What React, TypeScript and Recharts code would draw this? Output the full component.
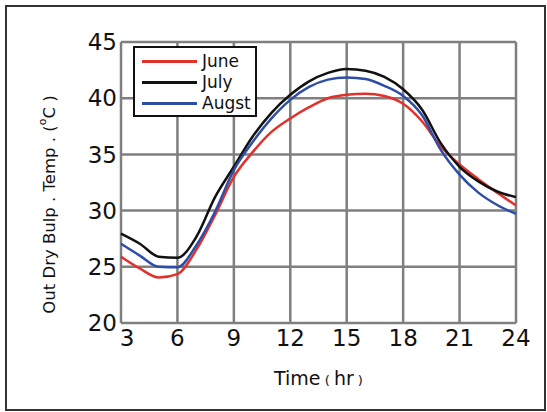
import React from "react";
import { LineChart, Line, XAxis, YAxis, CartesianGrid, Legend, Label } from "recharts";

const hours = [3, 4, 5, 6, 7, 8, 9, 10, 11, 12, 13, 14, 15, 16, 17, 18, 19, 20, 21, 22, 23, 24];
const june = [25.9, 24.85, 24.05, 24.35, 26.5, 29.6, 33.0, 35.2, 37.0, 38.2, 39.2, 40.0, 40.3, 40.4, 40.2, 39.5, 37.95, 35.7, 34.1, 32.8, 31.6, 30.45];
const july = [27.95, 27.05, 25.9, 25.8, 27.65, 31.2, 33.9, 36.6, 38.7, 40.3, 41.5, 42.25, 42.6, 42.45, 41.9, 40.8, 39.0, 36.0, 33.9, 32.6, 31.7, 31.2];
const augst = [27.05, 26.0, 25.0, 24.95, 26.9, 29.9, 33.6, 36.1, 38.2, 39.85, 41.0, 41.65, 41.85, 41.7, 41.1, 40.2, 38.5, 35.4, 33.2, 31.6, 30.5, 29.7];
const xTicks = [3, 6, 9, 12, 15, 18, 21, 24];
const yTicks = [20, 25, 30, 35, 40, 45];
const seriesOrder = ["June", "July", "Augst"];

const data = hours.map((h, i) => ({ hour: h, June: june[i], July: july[i], Augst: augst[i] }));

const FONT = "'DejaVu Sans', Verdana, sans-serif";

function LegendBox({ payload }: any) {
  const items = [...(payload || [])].sort(
    (a: any, b: any) => seriesOrder.indexOf(a.value) - seriesOrder.indexOf(b.value)
  );
  return (
    <div
      style={{
        width: 113,
        border: "2.5px solid #111",
        background: "#fff",
        padding: "3px 0 1px 7px",
        fontFamily: FONT,
        fontSize: 17,
        lineHeight: "21px",
        color: "#111",
      }}
    >
      {items.map((p: any) => (
        <div key={p.value} style={{ display: "flex", alignItems: "center" }}>
          <span style={{ display: "inline-block", width: 55, height: 3, background: p.color, marginRight: 5 }} />
          <span>{p.value}</span>
        </div>
      ))}
    </div>
  );
}

function XTick({ x, y, payload, index }: any) {
  const dx = index === 0 ? 6 : 0;
  return (
    <text x={x + dx} y={y} dy={17} textAnchor="middle" fontFamily={FONT} fontSize={23} fill="#111">
      {payload.value}
    </text>
  );
}

function YTitle({ viewBox }: any) {
  const x = viewBox.x + 55;
  const y = viewBox.y + viewBox.height / 2 + 22;
  return (
    <text x={x} y={y} transform={`rotate(-90, ${x}, ${y})`} textAnchor="middle" fontFamily={FONT} fontSize={16.5} fill="#111">
      <tspan>Out Dry Bulp . Temp . (</tspan>
      <tspan fontSize={11} dy={-9}>o</tspan>
      <tspan dy={9}>C )</tspan>
    </text>
  );
}

function XTitle({ viewBox }: any) {
  const x = viewBox.x + viewBox.width / 2;
  const y = viewBox.y + 62;
  return (
    <text x={x} y={y} textAnchor="middle" fontFamily={FONT} fontSize={19} fill="#111">
      Time<tspan fontSize={13}> ( </tspan>hr<tspan fontSize={13}> )</tspan>
    </text>
  );
}

export default function App() {
  return (
    <div style={{ position: "absolute", left: 0, top: 0, width: 547, height: 412, background: "#fff" }}>
      <div
        style={{
          position: "absolute",
          left: 5,
          top: 5,
          width: 537,
          height: 402,
          border: "2px solid #333",
        }}
      />
      <LineChart width={547} height={412} data={data} margin={{ top: 42, right: 31, bottom: 29, left: 0 }}>
        <CartesianGrid stroke="#7f7f7f" strokeWidth={2.5} />
        <XAxis
          dataKey="hour"
          type="number"
          domain={[3, 24]}
          ticks={xTicks}
          axisLine={false}
          tickLine={false}
          tickSize={0}
          tickMargin={6}
          height={60}
          tick={<XTick />}
        >
          <Label content={<XTitle />} />
        </XAxis>
        <YAxis
          type="number"
          domain={[20, 45]}
          ticks={yTicks}
          axisLine={false}
          tickLine={false}
          tickSize={0}
          tickMargin={4}
          width={121}
          tick={{ fontFamily: FONT, fontSize: 23, fill: "#111" }}
        >
          <Label content={<YTitle />} />
        </YAxis>
        <Legend
          layout="vertical"
          verticalAlign="middle"
          align="center"
          content={<LegendBox />}
          wrapperStyle={{ left: 133, top: 46, width: 124 }}
        />
        <Line type="monotone" dataKey="June" stroke="#e2302b" strokeWidth={2.5} dot={false} isAnimationActive={false} />
        <Line type="monotone" dataKey="July" stroke="#111111" strokeWidth={2.5} dot={false} isAnimationActive={false} />
        <Line type="monotone" dataKey="Augst" stroke="#2e4ea6" strokeWidth={2.5} dot={false} isAnimationActive={false} />
      </LineChart>
    </div>
  );
}
